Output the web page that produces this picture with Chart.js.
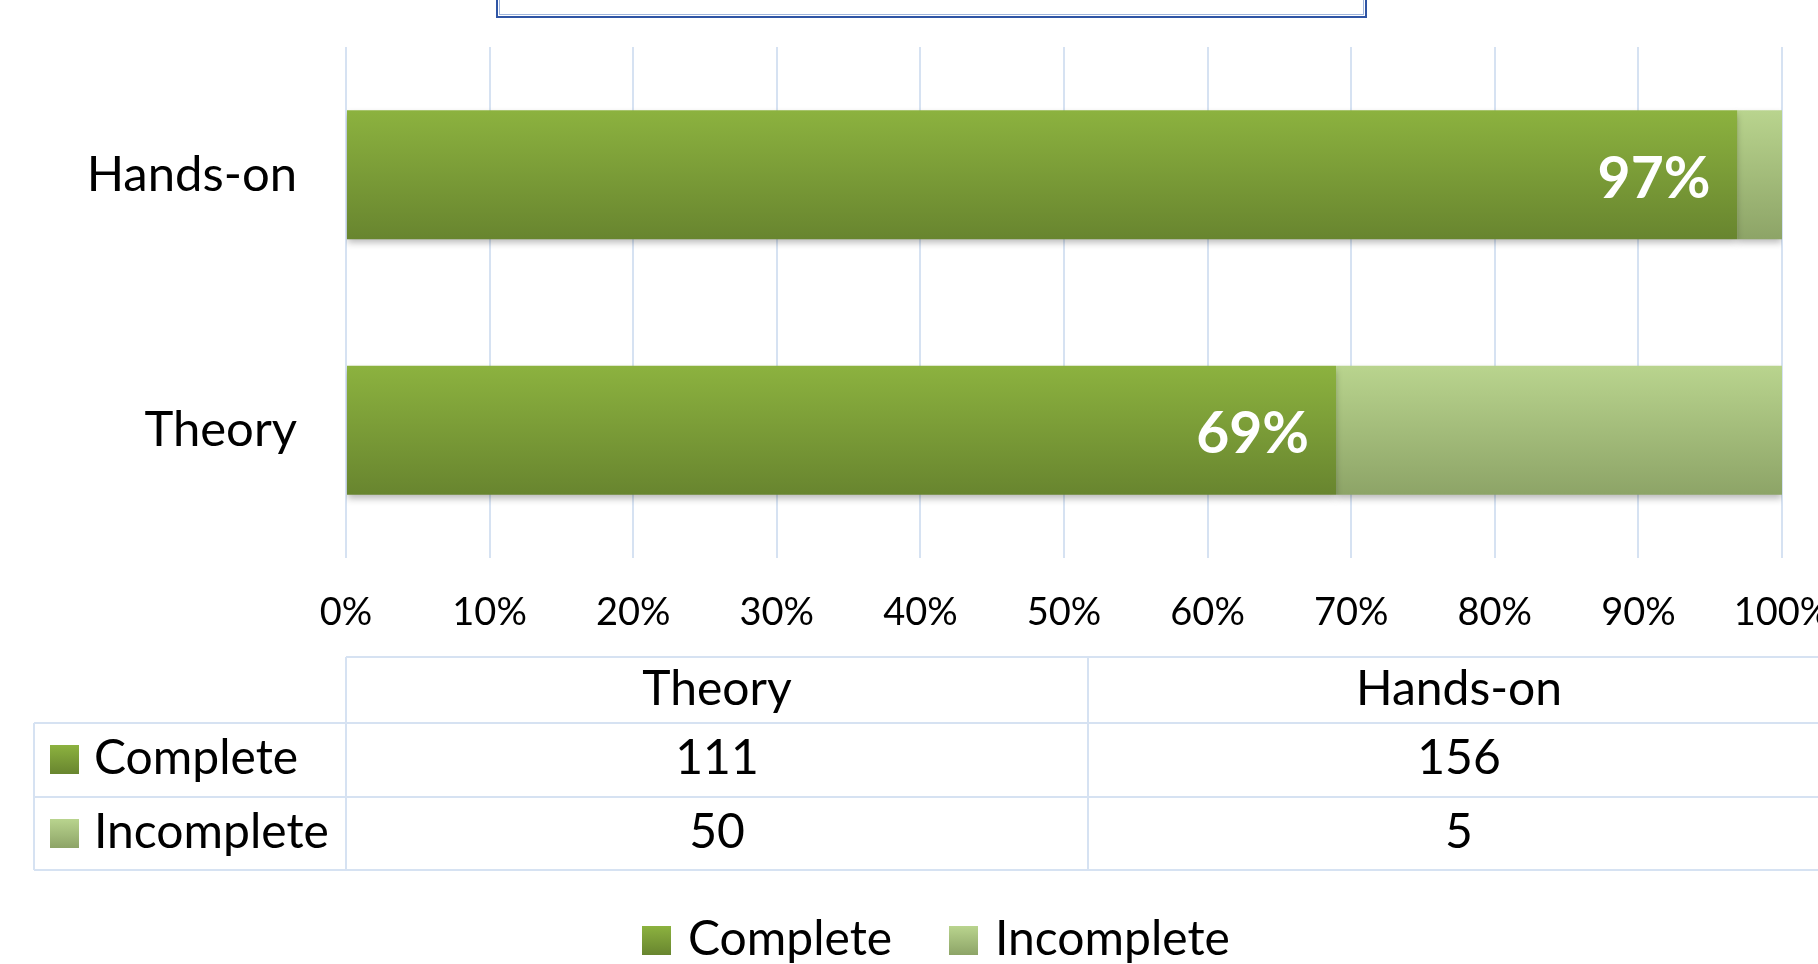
<!DOCTYPE html>
<html>
<head>
<meta charset="utf-8">
<script src="https://cdn.jsdelivr.net/npm/chart.js@4.4.0/dist/chart.umd.min.js"></script>
<style>
  body { margin: 0; background: #fff; }
  canvas { display: block; }
</style>
</head>
<body>
<canvas id="chart1" width="1818" height="964"></canvas>
<script>
const categories = ["Theory", "Hands-on"]
const seriesNames = ["Complete", "Incomplete"]
const completeCounts = [111, 156]
const incompleteCounts = [50, 5]

// 100% stacked: turn counts into shares
const totals = categories.map((c, i) => completeCounts[i] + incompleteCounts[i])
const completePct = completeCounts.map((v, i) => v / totals[i] * 100)
const incompletePct = incompleteCounts.map((v, i) => v / totals[i] * 100)

const FONT = "Lato"
const gridBlue = "#d6e2f2"
const colors = {
    Complete: ["#8cb23f", "#68852f"],
    Incomplete: ["#b9d48e", "#8da467"]
}

// vertical gradient over each bar
function barGradient(name) {
    return (c) => {
        const chart = c.chart
        if (!chart.chartArea || c.dataIndex === undefined) return colors[name][0]
        const y = chart.scales.y
        const center = y.getPixelForValue(c.dataIndex)
        const band = Math.abs(y.getPixelForValue(1) - y.getPixelForValue(0))
        const half = band * 0.505 / 2
        const g = chart.ctx.createLinearGradient(0, center - half, 0, center + half)
        g.addColorStop(0, colors[name][0])
        g.addColorStop(1, colors[name][1])
        return g
    }
}

function keyBox(ctx, name, x, y, s) {
    const g = ctx.createLinearGradient(0, y, 0, y + s)
    g.addColorStop(0, colors[name][0])
    g.addColorStop(1, colors[name][1])
    ctx.fillStyle = g
    ctx.fillRect(x, y, s, s)
}

// shadow under bars
const barShadow = {
    id: "barShadow",
    beforeDatasetsDraw(chart) {
        const ctx = chart.ctx
        ctx.save()
        ctx.shadowColor = "rgba(0,0,0,0.28)"
        ctx.shadowBlur = 7
        ctx.shadowOffsetY = 4
    },
    afterDatasetsDraw(chart) {
        chart.ctx.restore()
    }
}

// percentage label inside the end of the Complete bar
const pctLabels = {
    id: "pctLabels",
    afterDatasetsDraw(chart) {
        const ctx = chart.ctx
        const meta = chart.getDatasetMeta(0)
        ctx.save()
        ctx.font = "bold 57px " + FONT
        ctx.fillStyle = "#fff"
        ctx.textAlign = "right"
        ctx.textBaseline = "alphabetic"
        meta.data.forEach((el, i) => {
            const txt = Math.round(completePct[i]) + "%"
            ctx.fillText(txt, el.x - 27, el.y + 23)
        })
        ctx.restore()
    }
}

// title frame, data table and legend
const extras = {
    id: "extras",
    afterDraw(chart) {
        const ctx = chart.ctx
        const left = chart.chartArea.left
        const colW = 742
        const rows = [657, 723, 797, 870]
        const right = chart.width
        ctx.save()

        // title box (cut off at top)
        ctx.strokeStyle = "#2f55a4"
        ctx.lineWidth = 2
        ctx.strokeRect(497, -10, 869, 27)
        ctx.strokeStyle = "#9fb6dd"
        ctx.lineWidth = 1
        ctx.strokeRect(499.5, -10, 864, 24.5)

        // table grid
        ctx.strokeStyle = gridBlue
        ctx.lineWidth = 2
        ctx.beginPath()
        ctx.moveTo(left, rows[0]); ctx.lineTo(right, rows[0])
        for (let r = 1; r < rows.length; r++) {
            ctx.moveTo(34, rows[r]); ctx.lineTo(right, rows[r])
        }
        ctx.moveTo(34, rows[1]); ctx.lineTo(34, rows[3])
        ctx.moveTo(left, rows[0]); ctx.lineTo(left, rows[3])
        ctx.moveTo(left + colW, rows[0]); ctx.lineTo(left + colW, rows[3])
        ctx.stroke()

        ctx.fillStyle = "#000"
        ctx.font = "48px " + FONT
        ctx.textBaseline = "alphabetic"
        ctx.textAlign = "center"
        categories.forEach((c, i) => {
            const cx = left + colW * i + colW / 2
            ctx.fillText(c, cx, 705)
            ctx.fillText(String(completeCounts[i]), cx, 774)
            ctx.fillText(String(incompleteCounts[i]), cx, 848)
        })
        ctx.textAlign = "left"
        const rowBase = [774, 848]
        seriesNames.forEach((s, i) => {
            keyBox(ctx, s, 50, rowBase[i] - 29, 29)
            ctx.fillStyle = "#000"
            ctx.fillText(s, 94, rowBase[i])
        })

        // legend
        const legendX = [642, 949]
        seriesNames.forEach((s, i) => {
            keyBox(ctx, s, legendX[i], 926, 29)
            ctx.fillStyle = "#000"
            ctx.fillText(s, legendX[i] + 46, 955)
        })
        ctx.restore()
    }
}

const chart = new Chart(document.getElementById("chart1"), {
    type: "bar",
    data: {
        labels: categories,
        datasets: [
            {
                label: seriesNames[0],
                data: completePct,
                backgroundColor: barGradient("Complete"),
                borderWidth: 0,
                barPercentage: 0.505,
                categoryPercentage: 1
            },
            {
                label: seriesNames[1],
                data: incompletePct,
                backgroundColor: barGradient("Incomplete"),
                borderWidth: 0,
                barPercentage: 0.505,
                categoryPercentage: 1
            }
        ]
    },
    options: {
        indexAxis: "y",
        responsive: false,
        animation: false,
        layout: { padding: { top: 47, right: 36, left: 0, bottom: 0 } },
        scales: {
            x: {
                stacked: true,
                min: 0,
                max: 100,
                ticks: {
                    stepSize: 10,
                    callback: v => v + "%",
                    color: "#000",
                    font: { family: FONT, size: 38 },
                    padding: 32,
                    maxRotation: 0,
                    autoSkip: false
                },
                grid: { color: gridBlue, lineWidth: 2, drawTicks: false },
                border: { display: false },
                afterFit: s => { s.height = 406; s.paddingLeft = 0; s.paddingRight = 0 }
            },
            y: {
                stacked: true,
                reverse: true,
                ticks: {
                    color: "#000",
                    font: { family: FONT, size: 49 },
                    padding: 41
                },
                grid: { display: false },
                border: { display: false },
                afterFit: s => { s.width = 346; s.paddingTop = 0; s.paddingBottom = 0 }
            }
        },
        plugins: {
            legend: { display: false },
            tooltip: { enabled: false }
        }
    },
    plugins: [barShadow, pctLabels, extras]
})
</script>
</body>
</html>
